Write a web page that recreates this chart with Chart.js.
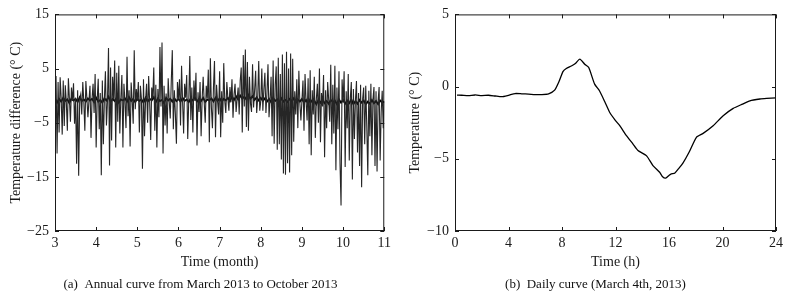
<!DOCTYPE html>
<html>
<head>
<meta charset="utf-8">
<script src="https://cdn.jsdelivr.net/npm/chart.js@4.4.1/dist/chart.umd.min.js"></script>
<style>
  html, body { margin: 0; padding: 0; background: #fff; }
  #wrap { position: relative; width: 790px; height: 300px; font-family: 'Liberation Serif', 'DejaVu Serif', serif; }
  .panel { position: absolute; top: 0; width: 395px; height: 300px; }
  .caption { position: absolute; top: 276px; width: 395px; text-align: center; font-size: 13px; color: #111; }
</style>
</head>
<body>
<div id="wrap">
  <div class="panel" style="left:0"><canvas id="annualChart" width="395" height="300"></canvas></div>
  <div class="panel" style="left:395px"><canvas id="dailyChart" width="395" height="300"></canvas></div>
  <div class="caption" style="left:3px">(a)&nbsp;&nbsp;Annual curve from March 2013 to October 2013</div>
  <div class="caption" style="left:398px">(b)&nbsp;&nbsp;Daily curve (March 4th, 2013)</div>
</div>
<script>
// (a) temperature difference, 40 samples per month
const monthStart = 3
const spikeStep = 0.025
const spikesMar = [-0.8, 3.6, -10.7, 2.5, -6.8, 3.4, -0.5, -7.2, 2.8, -5.6, 1.9, -1.2, -6.5, 3.2, -0.6, -4.8, 1.5, -1.0, 2.3, -5.2, -0.4, -12.6, 1.0, -14.8, -0.7, 0.2, -3.5, 2.5, -1.1, -6.5, 2.7, -0.5, -4.0, -0.9, 1.8, -7.8, -0.6, 2.2, -3.2, 4.0]
const spikesApr = [-9.6, -0.8, 3.1, -6.2, 0.5, -14.7, 2.8, -9.0, -0.6, 4.5, -5.5, -1.0, 8.8, -12.9, 5.2, -8.3, 3.5, -0.7, 6.5, -9.6, 4.2, -4.8, 5.5, -7.0, -0.5, 3.8, -9.6, 2.2, -1.2, -6.0, 7.2, -3.8, 1.0, -9.4, 2.4, -0.8, -5.2, 8.4, -2.5, 1.2]
const spikesMay = [-1.0, 2.5, -6.8, 1.8, -0.6, -13.5, 3.0, -7.5, -0.9, 2.2, -5.0, 3.6, -1.2, -8.2, 1.5, -0.5, 5.2, -6.5, 2.0, -9.6, 1.2, -4.0, 9.0, -2.0, 9.8, -10.7, 1.8, -5.5, 0.4, -7.0, 3.2, -1.0, -4.2, 2.6, 8.4, -6.2, 1.0, -3.5, -8.9, 2.5]
const spikesJun = [-0.7, 3.0, -5.5, 5.5, -1.1, -7.0, 2.2, -0.4, 3.8, -8.0, -0.9, 7.3, -4.5, 1.5, -6.8, 2.8, -1.0, 4.2, -9.2, 0.6, -3.0, 2.5, -7.5, -0.6, 3.5, -1.2, -5.0, 1.8, -0.5, 4.8, -8.6, 6.9, -2.2, -6.0, 1.5, 6.4, -7.7, 2.0, -1.0, -3.5]
const spikesJul = [4.5, -7.7, 0.8, -5.0, 6.0, -1.0, -3.2, 2.5, -0.5, -2.8, 1.6, -1.2, 3.0, -4.1, 0.2, 2.2, -3.0, -0.6, 1.5, -3.5, 2.8, 5.2, -6.8, 7.5, -2.0, 8.5, -5.8, 6.2, -6.5, 3.5, -1.5, -3.0, 5.8, -2.2, 1.0, 4.6, -3.2, -0.4, 6.4, -2.8]
const spikesAug = [-1.0, 5.0, -2.8, 1.2, 4.2, -3.2, 0.5, 5.8, -4.0, -0.8, 3.5, -7.5, 6.5, -8.9, 2.0, 5.4, -10.0, 7.0, -9.0, 4.0, -11.8, 7.6, -14.4, 6.0, -14.6, 8.1, -12.5, 5.0, -14.2, 7.8, -11.0, 6.8, -8.5, 0.8, -3.5, 3.0, -6.0, 4.6, -1.5, -4.6]
const spikesSep = [-0.8, 2.8, -6.5, 4.0, -1.0, -4.6, 3.2, -9.0, 4.7, -11.0, 1.0, -3.5, 3.5, -7.8, -0.6, 2.2, -5.0, 5.0, -8.6, 0.5, -2.0, 3.8, -11.4, 1.0, -6.0, 2.5, -0.8, -4.8, 5.7, -9.0, 2.0, -7.0, 5.5, -13.8, 1.5, -6.2, 4.5, -12.5, -20.3, 3.0]
const spikesOct = [-1.2, 4.5, -13.2, 0.8, -6.0, 4.0, -12.0, -0.5, 2.5, -15.5, 1.2, -8.0, -0.8, 2.7, -10.5, 0.5, -13.0, 2.0, -16.9, -0.6, 1.5, -9.0, 1.8, -5.5, -14.7, 0.9, -7.5, 2.2, -11.0, -0.7, 1.6, -13.0, 0.8, -14.0, -1.0, 1.6, -12.0, -3.0, 0.9, -6.0, -1.0]

// (a) the dark band near zero, 20 samples per month
const baseStep = 0.05
const baseMar = [-0.5, -1.3, -0.6, -1.1, -0.4, -1.0, -0.7, -1.4, -0.5, -0.9, -0.6, -1.2, -0.3, -1.0, -0.7, -1.1, -0.5, -0.9, -0.6, -1.2]
const baseApr = [-0.4, -1.1, -0.8, -1.3, -0.5, -0.9, -0.2, -1.2, -0.6, -1.0, -0.4, -1.3, -0.7, -0.9, -0.5, -1.1, -0.3, -1.0, -0.6, -1.2]
const baseMay = [-0.5, -1.0, -0.7, -1.3, -0.4, -1.1, -0.6, -0.9, -0.3, -1.2, -0.5, -1.0, -0.8, -1.4, -0.4, -0.9, -0.6, -1.1, -0.5, -1.0]
const baseJun = [-0.6, -1.1, -0.4, -1.0, -0.7, -1.2, -0.5, -0.9, -0.3, -1.1, -0.6, -1.0, -0.4, -1.2, -0.7, -0.9, -0.5, -1.1, -0.4, -1.0]
const baseJul = [-0.5, -1.1, -0.6, -0.9, -0.4, -1.0, -0.2, -0.8, -0.1, -0.7, 0.0, -0.6, -0.2, -0.7, 0.1, -0.6, -0.1, -0.8, -0.3, -0.9]
const baseAug = [-0.4, -1.0, -0.5, -1.1, -0.6, -1.2, -0.4, -1.0, -0.7, -1.3, -0.5, -1.1, -0.8, -1.2, -0.6, -1.0, -0.5, -1.3, -0.7, -1.1]
const baseSep = [-0.6, -1.3, -0.8, -1.5, -0.7, -1.2, -0.9, -1.6, -0.8, -1.3, -0.7, -1.4, -1.0, -1.5, -0.8, -1.2, -0.9, -1.6, -0.7, -1.3]
const baseOct = [-0.8, -1.5, -0.9, -1.4, -0.7, -1.6, -1.0, -1.5, -0.8, -1.3, -0.9, -1.6, -1.1, -1.5, -0.8, -1.4, -1.0, -1.6, -0.9, -1.3, -1.1]

// (b) daily curve
const hours = [0.15, 0.5, 1, 1.5, 2, 2.5, 3, 3.5, 4, 4.5, 5, 5.5, 6, 6.5, 7, 7.45, 7.8, 8.07, 8.32, 8.7, 9.0, 9.33, 9.7, 10.0, 10.44, 10.8, 11.2, 11.57, 12.0, 12.32, 12.82, 13.3, 13.68, 14.31, 14.8, 15.3, 15.5, 15.75, 16.0, 16.17, 16.42, 16.7, 17.04, 17.5, 18.05, 18.55, 19.3, 20.05, 20.8, 21.5, 22.05, 22.8, 23.3, 24.0]
const temps = [-0.59, -0.6, -0.63, -0.58, -0.62, -0.6, -0.65, -0.7, -0.6, -0.48, -0.5, -0.52, -0.55, -0.55, -0.5, -0.25, 0.4, 1.04, 1.25, 1.43, 1.6, 1.9, 1.55, 1.32, 0.17, -0.29, -1.05, -1.79, -2.35, -2.71, -3.4, -3.97, -4.43, -4.78, -5.47, -5.93, -6.22, -6.34, -6.15, -6.04, -6.0, -5.7, -5.3, -4.55, -3.51, -3.24, -2.71, -2.02, -1.51, -1.21, -0.98, -0.86, -0.82, -0.78]

const monthTicks = [3, 4, 5, 6, 7, 8, 9, 10, 11]
const hourTicks = [0, 4, 8, 12, 16, 20, 24]

const FONT = "'Liberation Serif', 'DejaVu Serif', serif"
const INK = '#1a1a1a'

function toPoints(values, start, step) {
  return values.map((v, i) => ({ x: start + i * step, y: v }))
}

// box round the plot area with short inward ticks on all four sides
const frameTicks = {
  id: 'frameTicks',
  afterDraw(chart) {
    const { ctx, chartArea: a, scales } = chart
    const len = 4
    ctx.save()
    ctx.strokeStyle = INK
    ctx.lineWidth = 1
    ctx.strokeRect(a.left + 0.5, a.top + 0.5, a.right - a.left - 1, a.bottom - a.top - 1)
    ctx.beginPath()
    scales.x.ticks.forEach((t) => {
      const px = Math.round(scales.x.getPixelForValue(t.value)) + 0.5
      ctx.moveTo(px, a.bottom)
      ctx.lineTo(px, a.bottom - len)
      ctx.moveTo(px, a.top)
      ctx.lineTo(px, a.top + len)
    })
    scales.y.ticks.forEach((t) => {
      const py = Math.round(scales.y.getPixelForValue(t.value)) + 0.5
      ctx.moveTo(a.left, py)
      ctx.lineTo(a.left + len, py)
      ctx.moveTo(a.right, py)
      ctx.lineTo(a.right - len, py)
    })
    ctx.stroke()
    ctx.restore()
  },
}

function axes(xCfg, yCfg) {
  return {
    x: {
      type: 'linear',
      min: xCfg.min,
      max: xCfg.max,
      afterBuildTicks: (s) => { s.ticks = xCfg.ticks.map((v) => ({ value: v })) },
      afterFit: (s) => { s.height = 46 },
      grid: { display: false, drawTicks: false },
      border: { display: false },
      ticks: { font: { family: FONT, size: 14 }, color: INK, padding: 4, maxRotation: 0 },
      title: { display: true, text: xCfg.title, font: { family: FONT, size: 14 }, color: INK, padding: { top: 0, bottom: 6 } },
    },
    y: {
      type: 'linear',
      min: yCfg.min,
      max: yCfg.max,
      ticks: { stepSize: yCfg.step, font: { family: FONT, size: 14 }, color: INK, padding: 6,
        callback: (v) => String(v).replace('-', '\u2212') },
      afterFit: (s) => { s.width = yCfg.width },
      grid: { display: false, drawTicks: false },
      border: { display: false },
      title: { display: true, text: yCfg.title, font: { family: FONT, size: 14 }, color: INK, padding: { top: yCfg.titlePad, bottom: 0 } },
    },
  }
}

function createAnnualChart() {
  const canvas = document.getElementById('annualChart')
  const spikes = [].concat(spikesMar, spikesApr, spikesMay, spikesJun, spikesJul, spikesAug, spikesSep, spikesOct)
  const band = [].concat(baseMar, baseApr, baseMay, baseJun, baseJul, baseAug, baseSep, baseOct)

  new Chart(canvas, {
    type: 'line',
    data: {
      datasets: [
        { data: toPoints(spikes, monthStart, spikeStep), borderColor: '#262626', borderWidth: 1.1, pointRadius: 0, tension: 0 },
        { data: toPoints(band, monthStart, baseStep), borderColor: '#000', borderWidth: 1.8, pointRadius: 0, tension: 0 },
      ],
    },
    options: {
      responsive: false,
      animation: false,
      layout: { padding: { top: 13, right: 9, bottom: 23, left: 0 } },
      plugins: { legend: { display: false }, tooltip: { enabled: false } },
      scales: axes(
        { min: 3, max: 11, ticks: monthTicks, title: 'Time (month)' },
        { min: -25, max: 15, step: 10, width: 55, titlePad: 8, title: 'Temperature difference (° C)' }
      ),
    },
    plugins: [frameTicks],
  })
}

function createDailyChart() {
  const canvas = document.getElementById('dailyChart')

  new Chart(canvas, {
    type: 'line',
    data: {
      datasets: [
        { data: hours.map((h, i) => ({ x: h, y: temps[i] })), borderColor: '#000', borderWidth: 1.3, pointRadius: 0, tension: 0.2 },
      ],
    },
    options: {
      responsive: false,
      animation: false,
      layout: { padding: { top: 13, right: 14, bottom: 23, left: 0 } },
      plugins: { legend: { display: false }, tooltip: { enabled: false } },
      scales: axes(
        { min: 0, max: 24, ticks: hourTicks, title: 'Time (h)' },
        { min: -10, max: 5, step: 5, width: 60, titlePad: 12, title: 'Temperature (° C)' }
      ),
    },
    plugins: [frameTicks],
  })
}

createAnnualChart()
createDailyChart()
</script>
</body>
</html>
